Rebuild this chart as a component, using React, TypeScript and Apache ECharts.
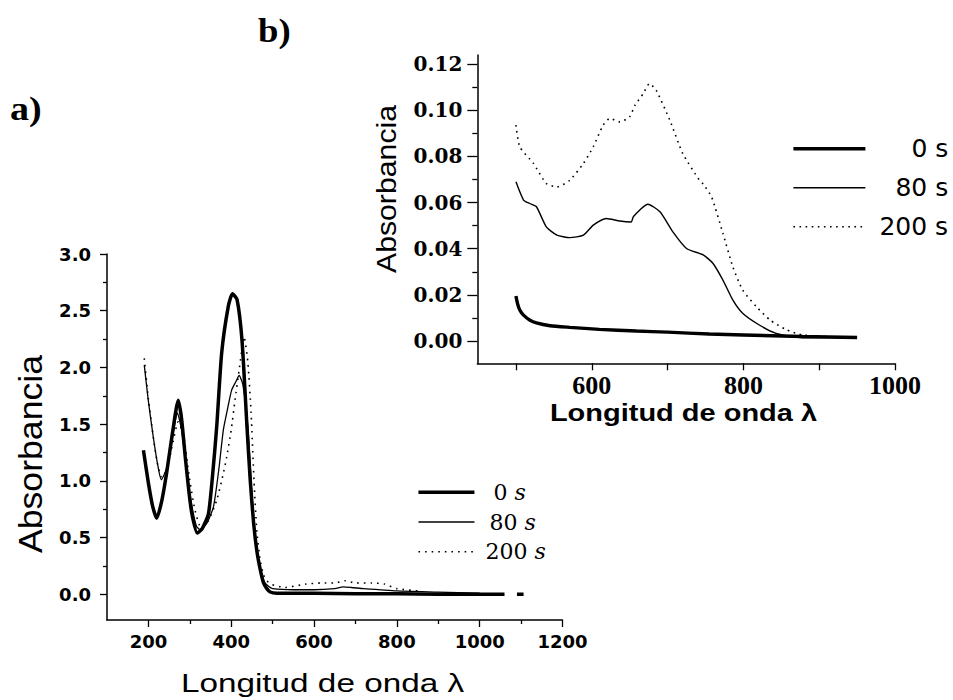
import React, { useEffect, useRef } from "react";
import * as echarts from "echarts";

// ---------- Panel a) : full spectra ----------
const aWave0 = [188, 200, 210, 220, 232, 244, 258, 272, 280, 289, 298, 305, 318, 330, 345, 355, 365, 377, 393, 403, 414, 426, 438, 446, 454, 462, 470, 478, 486, 494, 510, 550, 600, 700, 800, 900, 1000, 1060, 1075, 1090, 1106];
const aAbs0 = [1.27, 0.98, 0.78, 0.67, 0.82, 1.07, 1.42, 1.71, 1.55, 1.21, 0.9, 0.71, 0.54, 0.58, 0.71, 1.05, 1.48, 2.13, 2.54, 2.65, 2.6, 2.24, 1.48, 1.0, 0.63, 0.38, 0.22, 0.1, 0.05, 0.02, 0.01, 0.01, 0.01, 0.005, 0.005, 0.0, 0.0, 0.0, null, 0.0, 0.0];

const aWave80 = [190, 200, 212, 222, 231, 245, 258, 270, 280, 292, 305, 316, 325, 340, 357, 370, 381, 392, 401, 412, 419, 428, 440, 450, 460, 470, 480, 490, 500, 550, 600, 650, 670, 690, 720, 800, 900, 1000];
const aAbs80 = [2.02, 1.7, 1.38, 1.15, 1.01, 1.12, 1.38, 1.6, 1.45, 1.1, 0.78, 0.6, 0.57, 0.62, 0.77, 1.1, 1.45, 1.65, 1.8, 1.88, 1.93, 1.85, 1.48, 0.88, 0.45, 0.22, 0.11, 0.07, 0.05, 0.04, 0.04, 0.05, 0.065, 0.06, 0.05, 0.03, 0.02, 0.01];

const aWave200 = [190, 200, 212, 222, 232, 245, 258, 272, 285, 298, 312, 327, 345, 365, 380, 389, 400, 409, 420, 431, 440, 448, 455, 462, 470, 478, 486, 495, 530, 580, 620, 650, 675, 700, 740, 770, 800, 850];
const aAbs200 = [2.08, 1.72, 1.38, 1.15, 1.03, 1.1, 1.32, 1.52, 1.4, 1.05, 0.75, 0.59, 0.65, 0.83, 1.05, 1.21, 1.45, 1.71, 2.0, 2.27, 2.05, 1.6, 1.0, 0.55, 0.3, 0.17, 0.12, 0.09, 0.06, 0.09, 0.1, 0.1, 0.12, 0.1, 0.1, 0.09, 0.05, 0.03];

const aXTicks = [200, 400, 600, 800, 1000, 1200];
const aYTicks = [0, 0.5, 1.0, 1.5, 2.0, 2.5, 3.0];

// ---------- Panel b) : visible region ----------
const bWave0 = [500, 502, 505, 510, 518, 527, 545, 571, 610, 659, 700, 755, 800, 878, 950];
const bAbs0 = [0.0195, 0.0163, 0.0134, 0.0112, 0.0091, 0.0078, 0.0066, 0.0059, 0.005, 0.0043, 0.0038, 0.003, 0.0026, 0.0019, 0.0015];

const bWave80 = [500, 510, 518, 527, 540, 554, 571, 589, 602, 619, 637, 652, 655, 674, 690, 707, 725, 747, 760, 773, 786, 799, 821, 843, 878, 950];
const bAbs80 = [0.069, 0.0611, 0.0596, 0.0582, 0.0495, 0.0459, 0.0448, 0.0459, 0.0502, 0.0531, 0.052, 0.0516, 0.054, 0.0593, 0.056, 0.0473, 0.0401, 0.0373, 0.0336, 0.0264, 0.0178, 0.012, 0.0069, 0.0033, 0.0014, 0.0015];

const bWave200 = [500, 505, 523, 540, 554, 571, 589, 602, 615, 624, 637, 650, 657, 668, 676, 685, 703, 720, 742, 747, 758, 773, 786, 799, 817, 835, 857, 878, 949];
const bAbs200 = [0.0936, 0.0842, 0.077, 0.0683, 0.0668, 0.0697, 0.077, 0.0842, 0.0936, 0.0965, 0.095, 0.0972, 0.1022, 0.1073, 0.1116, 0.1087, 0.0957, 0.0813, 0.0697, 0.068, 0.0625, 0.0467, 0.0322, 0.0221, 0.0149, 0.0091, 0.0048, 0.0026, 0.0012];

const bXTicks = [500, 600, 700, 800, 900, 1000];
const bXLabels = [600, 800, 1000];
const bYTicks = [0, 0.02, 0.04, 0.06, 0.08, 0.1, 0.12];

const seriesNames: Record<string, string> = {
  a0: "0 s", a80: "80 s", a200: "200 s",
  b0: "0 s", b80: "80 s", b200: "200 s",
};

const pairs = (xs: number[], ys: (number | null)[]) => xs.map((x, i) => [x, ys[i]]);

const BLACK = "#000";
const NO_SYMBOL = { color: "rgba(0,0,0,0)", borderColor: "rgba(0,0,0,0)", borderWidth: 0 };

// line styles shared by series and legend icons
const styleA0 = { color: BLACK, width: 3.5 };
const styleA80 = { color: BLACK, width: 1.3 };
const styleA200 = { color: BLACK, width: 1.6, type: [1.6, 5] };
const styleB0 = { color: BLACK, width: 3.4 };
const styleB80 = { color: BLACK, width: 1.4 };
const styleB200 = { color: BLACK, width: 1.6, type: [1.6, 4.5] };

function axisCommon(extra: any) {
  return {
    type: "value",
    splitLine: { show: false },
    axisLine: { show: true, onZero: false, lineStyle: { color: BLACK, width: 1.5 } },
    ...extra,
  };
}

export default function App() {
  const ref = useRef<HTMLDivElement>(null);

  useEffect(() => {
    if (!ref.current) return;
    const chart = echarts.init(ref.current, undefined, { renderer: "svg" });

    const option: any = {
      animation: false,
      backgroundColor: "#fff",
      grid: [
        { left: 107, top: 254, width: 455.5, height: 366, containLabel: false },
        { left: 477.3, top: 55, width: 417.7, height: 308.3, containLabel: false },
      ],
      xAxis: [
        axisCommon({
          gridIndex: 0,
          min: 100,
          max: 1200,
          minInterval: 200,
          maxInterval: 200,
          axisTick: { show: true, length: 7, customValues: aXTicks, lineStyle: { color: BLACK, width: 1.3 } },
          minorTick: { show: true, splitNumber: 2, length: 4, lineStyle: { color: BLACK, width: 1.3 } },
          axisLabel: {
            customValues: aXTicks,
            color: BLACK,
            fontFamily: "DejaVu Sans",
            fontWeight: "bold",
            fontSize: 18,
            margin: 12,
            formatter: (v: number) => String(v),
          },
        }),
        axisCommon({
          gridIndex: 1,
          min: 449,
          max: 1000,
          minInterval: 100,
          maxInterval: 100,
          axisTick: { show: true, length: 7, customValues: bXTicks, lineStyle: { color: BLACK, width: 1.3 } },
          axisLabel: {
            customValues: bXLabels,
            color: BLACK,
            fontFamily: "Liberation Serif",
            fontWeight: "bold",
            fontSize: 26,
            margin: 9,
            formatter: (v: number) => String(v),
          },
        }),
      ],
      yAxis: [
        axisCommon({
          gridIndex: 0,
          min: -0.2266,
          max: 3.0,
          minInterval: 0.5,
          maxInterval: 0.5,
          axisTick: { show: true, length: 7, customValues: aYTicks, lineStyle: { color: BLACK, width: 1.3 } },
          minorTick: { show: true, splitNumber: 2, length: 4, lineStyle: { color: BLACK, width: 1.3 } },
          axisLabel: {
            customValues: aYTicks,
            color: BLACK,
            fontFamily: "DejaVu Sans",
            fontWeight: "bold",
            fontSize: 18,
            margin: 16,
            formatter: (v: number) => v.toFixed(1),
          },
        }),
        axisCommon({
          gridIndex: 1,
          min: -0.0097,
          max: 0.124,
          minInterval: 0.02,
          maxInterval: 0.02,
          axisTick: { show: true, length: 10, customValues: bYTicks, lineStyle: { color: BLACK, width: 1.3 } },
          minorTick: { show: true, splitNumber: 2, length: 5, lineStyle: { color: BLACK, width: 1.3 } },
          axisLabel: {
            customValues: bYTicks,
            color: BLACK,
            fontFamily: "DejaVu Serif",
            fontWeight: "bold",
            fontSize: 20,
            margin: 15,
            formatter: (v: number) => v.toFixed(2),
          },
        }),
      ],
      legend: [
        {
          orient: "vertical",
          left: 416.7,
          top: 481.3,
          padding: 0,
          itemWidth: 56,
          itemHeight: 14,
          itemGap: 7.7,
          selectedMode: false,
          itemStyle: NO_SYMBOL,
          data: [
            { name: "a0", itemStyle: NO_SYMBOL, lineStyle: styleA0 },
            { name: "a80", itemStyle: NO_SYMBOL, lineStyle: styleA80 },
            { name: "a200", itemStyle: NO_SYMBOL, lineStyle: styleA200 },
          ],
          formatter: (name: string) => {
            const num = seriesNames[name].split(" ")[0];
            return `{${"n" + num}|${num} }{s|s}`;
          },
          textStyle: {
            color: BLACK,
            rich: {
              n0: { fontFamily: "DejaVu Serif", fontSize: 22, lineHeight: 22, color: BLACK, padding: [0, 0, 0, 14] },
              n80: { fontFamily: "DejaVu Serif", fontSize: 22, lineHeight: 22, color: BLACK, padding: [0, 0, 0, 10] },
              n200: { fontFamily: "DejaVu Serif", fontSize: 22, lineHeight: 22, color: BLACK, padding: [0, 0, 0, 6] },
              s: { fontFamily: "DejaVu Serif", fontStyle: "italic", fontSize: 22, lineHeight: 22, color: BLACK },
            },
          },
        },
        {
          orient: "vertical",
          left: 791.7,
          top: 136.3,
          padding: 0,
          itemWidth: 72,
          itemHeight: 14,
          itemGap: 14,
          selectedMode: false,
          itemStyle: NO_SYMBOL,
          data: [
            { name: "b0", itemStyle: NO_SYMBOL, lineStyle: styleB0 },
            { name: "b80", itemStyle: NO_SYMBOL, lineStyle: styleB80 },
            { name: "b200", itemStyle: NO_SYMBOL, lineStyle: styleB200 },
          ],
          formatter: (name: string) => {
            const num = seriesNames[name].split(" ")[0];
            return `{${"m" + num}|${num} s}`;
          },
          textStyle: {
            color: BLACK,
            rich: {
              m0: { fontFamily: "DejaVu Sans", fontSize: 25, lineHeight: 26, color: BLACK, padding: [0, 0, 0, 41] },
              m80: { fontFamily: "DejaVu Sans", fontSize: 25, lineHeight: 26, color: BLACK, padding: [0, 0, 0, 25] },
              m200: { fontFamily: "DejaVu Sans", fontSize: 25, lineHeight: 26, color: BLACK, padding: [0, 0, 0, 9] },
            },
          },
        },
      ],
      series: [
        {
          name: "a0", type: "line", xAxisIndex: 0, yAxisIndex: 0, symbol: "none", smooth: 0.2,
          lineStyle: styleA0, itemStyle: { color: BLACK },
          data: pairs(aWave0, aAbs0),
        },
        {
          name: "a80", type: "line", xAxisIndex: 0, yAxisIndex: 0, symbol: "none", smooth: 0.2,
          lineStyle: styleA80, itemStyle: { color: BLACK },
          data: pairs(aWave80, aAbs80),
        },
        {
          name: "a200", type: "line", xAxisIndex: 0, yAxisIndex: 0, symbol: "none", smooth: 0.2,
          lineStyle: styleA200, itemStyle: { color: BLACK },
          data: pairs(aWave200, aAbs200),
        },
        {
          name: "b0", type: "line", xAxisIndex: 1, yAxisIndex: 1, symbol: "none", smooth: 0.2,
          lineStyle: styleB0, itemStyle: { color: BLACK },
          data: pairs(bWave0, bAbs0),
        },
        {
          name: "b80", type: "line", xAxisIndex: 1, yAxisIndex: 1, symbol: "none", smooth: 0.2,
          lineStyle: styleB80, itemStyle: { color: BLACK },
          data: pairs(bWave80, bAbs80),
        },
        {
          name: "b200", type: "line", xAxisIndex: 1, yAxisIndex: 1, symbol: "none", smooth: 0.2,
          lineStyle: styleB200, itemStyle: { color: BLACK },
          data: pairs(bWave200, bAbs200),
        },
      ],
      graphic: [
        {
          type: "text", x: 10, y: 109, scaleX: 1.12,
          style: { text: "a)", fontFamily: "Liberation Serif", fontWeight: "bold", fontSize: 34, fill: BLACK,
            align: "left", verticalAlign: "middle", textAlign: "left", textVerticalAlign: "middle" },
        },
        {
          type: "text", x: 258, y: 30, scaleX: 1.08,
          style: { text: "b)", fontFamily: "Liberation Serif", fontWeight: "bold", fontSize: 34, fill: BLACK,
            align: "left", verticalAlign: "middle", textAlign: "left", textVerticalAlign: "middle" },
        },
        {
          type: "text", x: 30, y: 454, rotation: Math.PI / 2, scaleX: 1.08,
          style: { text: "Absorbancia", fontFamily: "Liberation Sans", fontSize: 33, fill: BLACK,
            align: "center", verticalAlign: "middle", textAlign: "center", textVerticalAlign: "middle" },
        },
        {
          type: "text", x: 387, y: 189, rotation: Math.PI / 2, scaleX: 1.12,
          style: { text: "Absorbancia", fontFamily: "Liberation Sans", fontSize: 27, fill: BLACK,
            align: "center", verticalAlign: "middle", textAlign: "center", textVerticalAlign: "middle" },
        },
        {
          type: "text", x: 322.5, y: 682.7, scaleX: 1.28,
          style: { text: "Longitud de onda λ", fontFamily: "Liberation Sans", fontSize: 26, fill: BLACK,
            align: "center", verticalAlign: "middle", textAlign: "center", textVerticalAlign: "middle" },
        },
        {
          type: "text", x: 683.5, y: 413.4, scaleX: 1.26,
          style: { text: "Longitud de onda λ", fontFamily: "Liberation Sans", fontWeight: "bold", fontSize: 23, fill: BLACK,
            align: "center", verticalAlign: "middle", textAlign: "center", textVerticalAlign: "middle" },
        },
      ],
    };

    chart.setOption(option);
    return () => chart.dispose();
  }, []);

  return (
    <div
      ref={ref}
      style={{ position: "fixed", left: 0, top: 0, width: 953, height: 700, background: "#fff" }}
    />
  );
}
